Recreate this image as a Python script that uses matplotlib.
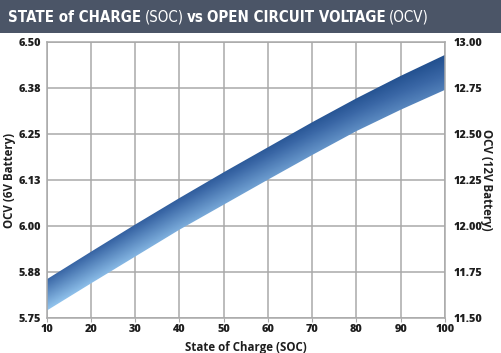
import numpy as np
import matplotlib
matplotlib.use('Agg')
import matplotlib.pyplot as plt
from matplotlib.colors import LinearSegmentedColormap
from matplotlib.patches import Polygon, Rectangle
from matplotlib import font_manager as fm

# data
soc = [10, 20, 30, 40, 50, 60, 70, 80, 90, 100]
ocv_top = [5.855, 5.930, 6.004, 6.076, 6.146, 6.214, 6.282, 6.347, 6.408, 6.465]
ocv_bottom = [5.770, 5.844, 5.917, 5.990, 6.058, 6.126, 6.193, 6.258, 6.316, 6.370]

left_ticks = [5.75, 5.875, 6.0, 6.125, 6.25, 6.375, 6.5]
left_labels = ['5.75', '5.88', '6.00', '6.13', '6.25', '6.38', '6.50']
right_ticks = [11.5, 11.75, 12.0, 12.25, 12.5, 12.75, 13.0]
right_labels = ['11.50', '11.75', '12.00', '12.25', '12.50', '12.75', '13.00']
x_ticks = [10, 20, 30, 40, 50, 60, 70, 80, 90, 100]

title_parts = [('STATE of CHARGE', 'bold'), ('(SOC)', 'light'), ('vs', 'bold'),
               ('OPEN CIRCUIT VOLTAGE', 'bold'), ('(OCV)', 'light')]

GRID = '#a9a9a9'
TXT = '#1e1e1e'
FONT = 'Open Sans'
TICK_FS = 7.8
LAB_FS = 8.3

W, H = 501, 353
fig = plt.figure(figsize=(W / 100, H / 100), dpi=100)
fig.patch.set_facecolor('white')

# title bar
fig.patches.append(Rectangle((0, 1 - 33 / H), 1, 33 / H, transform=fig.transFigure,
                             facecolor='#4b5567', edgecolor='none', zorder=0))

ax = fig.add_axes([46.7 / W, 1 - 318 / H, (445 - 46.7) / W, (318 - 42) / H])
ax.set_xlim(10, 100)
ax.set_ylim(5.75, 6.5)
ax.set_xticks(x_ticks)
ax.set_yticks(left_ticks)
ax.set_yticklabels(left_labels)
ax.grid(color=GRID, lw=1.1)
ax.set_axisbelow(True)
for sp in ax.spines.values():
    sp.set_color(GRID)
    sp.set_linewidth(1.1)
ax.tick_params(axis='x', length=3, color=GRID, pad=1, labelsize=TICK_FS, labelcolor=TXT)
ax.tick_params(axis='y', length=0, pad=4, labelsize=TICK_FS, labelcolor=TXT)
for lab in ax.get_xticklabels() + ax.get_yticklabels():
    lab.set_fontweight('heavy')
    lab.set_family(FONT)

# gradient band
cmap = LinearSegmentedColormap.from_list('band', [(0, '#22508f'), (0.25, '#3a67a6'), (1, '#93c5ee')])
xs = np.linspace(10, 100, 450)
ys = np.linspace(5.75, 6.5, 350)
X, Y = np.meshgrid(xs, ys)
up = np.interp(X, soc, ocv_top)
lo = np.interp(X, soc, ocv_bottom)
frac = np.clip((up - Y) / (up - lo), 0, 1)
xn = (X - 10) / 90
shade = 0.25 * (1 - xn) + frac * (0.75 - 0.3 * xn)
im = ax.imshow(shade, extent=[10, 100, 5.75, 6.5], origin='lower', aspect='auto',
               cmap=cmap, vmin=0, vmax=1, zorder=2, interpolation='bilinear')
poly = Polygon(np.column_stack([soc + soc[::-1], ocv_top + ocv_bottom[::-1]]), closed=True,
               facecolor='none', edgecolor='none', transform=ax.transData)
ax.add_patch(poly)
im.set_clip_path(poly)

ax.set_xlabel('State of Charge (SOC)', fontsize=LAB_FS, fontweight='bold', family=FONT,
              color=TXT, labelpad=5)
ax.set_ylabel('OCV (6V Battery)', fontsize=LAB_FS, fontweight='bold', family=FONT,
              color=TXT, labelpad=2)

ax2 = ax.twinx()
ax2.set_ylim(11.5, 13.0)
ax2.set_yticks(right_ticks)
ax2.set_yticklabels(right_labels)
for sp in ax2.spines.values():
    sp.set_visible(False)
ax2.tick_params(axis='y', length=0, pad=6, labelsize=TICK_FS, labelcolor=TXT)
for lab in ax2.get_yticklabels():
    lab.set_fontweight('heavy')
    lab.set_family(FONT)
ax2.set_ylabel('OCV (12V Battery)', fontsize=LAB_FS, fontweight='bold', family=FONT,
               color=TXT, rotation=270, labelpad=8)

# title, drawn piece by piece
names = {f.name for f in fm.fontManager.ttflist}
stretches = {(f.name, f.stretch) for f in fm.fontManager.ttflist}
if 'Liberation Sans Narrow' in names:
    tfam, tstretch = 'Liberation Sans Narrow', 'normal'
elif ('DejaVu Sans', 'condensed') in stretches:
    tfam, tstretch = 'DejaVu Sans', 'condensed'
else:
    tfam, tstretch = 'Roboto', 'normal'

fig.canvas.draw()
r = fig.canvas.get_renderer()


def draw_title(fs):
    x = 8
    texts = []
    for txt, w in title_parts:
        t = fig.text(x / W, 1 - 17.5 / H, txt, color='white', fontsize=fs, fontweight=w,
                     family=tfam, fontstretch=tstretch, ha='left', va='center')
        bb = t.get_window_extent(renderer=r)
        x = bb.x1 + fs * 0.3
        texts.append(t)
    return texts, x - 8 - fs * 0.3


texts, width = draw_title(15)
fs = min(15, 15 * 422 / width)
for t in texts:
    t.remove()
draw_title(fs)

fig.savefig('out.png', dpi=100)
